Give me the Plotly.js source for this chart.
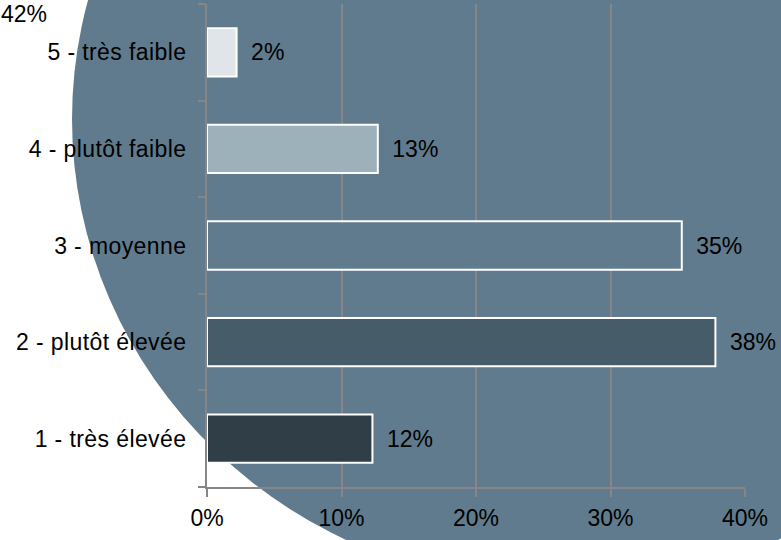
<!DOCTYPE html>
<html>
<head>
<meta charset="utf-8">
<script src="https://cdn.plot.ly/plotly-3.0.1.min.js"></script>
<style>
html,body{margin:0;padding:0;background:#fff;}
#chart{width:781px;height:540px;}
.ytick text{letter-spacing:0.4px;}
</style>
</head>
<body>
<div id="chart"></div>
<script>
var categories = ["1 - très élevée", "2 - plutôt élevée", "3 - moyenne", "4 - plutôt faible", "5 - très faible"];
var values = [12.3, 37.8, 35.3, 12.7, 2.2];
var valueLabels = ["12%", "38%", "35%", "13%", "2%"];
var barColors = ["#303e47", "#465c69", "#5f7b8d", "#9db1bb", "#dfe5e9"];
var xTickVals = [0, 10, 20, 30, 40];
var xTickText = ["0%", "10%", "20%", "30%", "40%"];
var cornerLabel = "42%";

var FS = 23;

var trace = {
  type: "bar",
  orientation: "h",
  y: categories,
  x: values,
  width: 0.5,
  text: valueLabels.map(function(t){ return "\u2002" + t; }),
  textposition: "outside",
  cliponaxis: false,
  textfont: {family: "Liberation Sans, Arial, sans-serif", size: FS, color: "#000"},
  marker: {color: barColors, line: {color: "#ffffff", width: 2}},
  hoverinfo: "none"
};

var layout = {
  width: 781, height: 540,
  margin: {l: 207, r: 36, t: 4, b: 53},
  paper_bgcolor: "#ffffff",
  plot_bgcolor: "rgba(0,0,0,0)",
  showlegend: false,
  bargap: 0.5,
  font: {family: "Liberation Sans, Arial, sans-serif", size: FS, color: "#000"},
  xaxis: {
    range: [0, 40],
    tickvals: xTickVals,
    ticktext: xTickText,
    showgrid: true,
    gridcolor: "#868686",
    gridwidth: 2,
    zeroline: false,
    showline: true,
    linecolor: "#868686",
    linewidth: 2,
    ticks: "outside",
    ticklen: 8,
    tickwidth: 2,
    tickcolor: "#868686",
    tickfont: {size: FS, color: "#000"},
    ticklabelstandoff: 1,
    fixedrange: true
  },
  yaxis: {
    categoryorder: "array",
    categoryarray: categories,
    range: [-0.5, 4.5],
    showgrid: false,
    zeroline: false,
    showline: true,
    linecolor: "#868686",
    linewidth: 2,
    ticks: "outside",
    tickson: "boundaries",
    ticklen: 7,
    tickwidth: 2,
    tickcolor: "#868686",
    tickfont: {size: FS, color: "#000"},
    ticklabelstandoff: 14,
    fixedrange: true
  },
  shapes: [{
    type: "circle",
    xref: "paper", yref: "paper",
    x0: -0.2509, x1: 1.5706,
    y0: -0.2091, y1: 1.733,
    fillcolor: "#5f7b8d",
    line: {width: 0},
    layer: "below"
  }],
  annotations: [{
    text: cornerLabel,
    xref: "paper", yref: "paper",
    x: (-1 - 207) / 538, y: (487 + 1) / 483,
    xanchor: "left", yanchor: "top",
    showarrow: false,
    font: {size: FS, color: "#000"}
  }]
};

Plotly.newPlot("chart", [trace], layout, {displayModeBar: false, staticPlot: true});
</script>
</body>
</html>
